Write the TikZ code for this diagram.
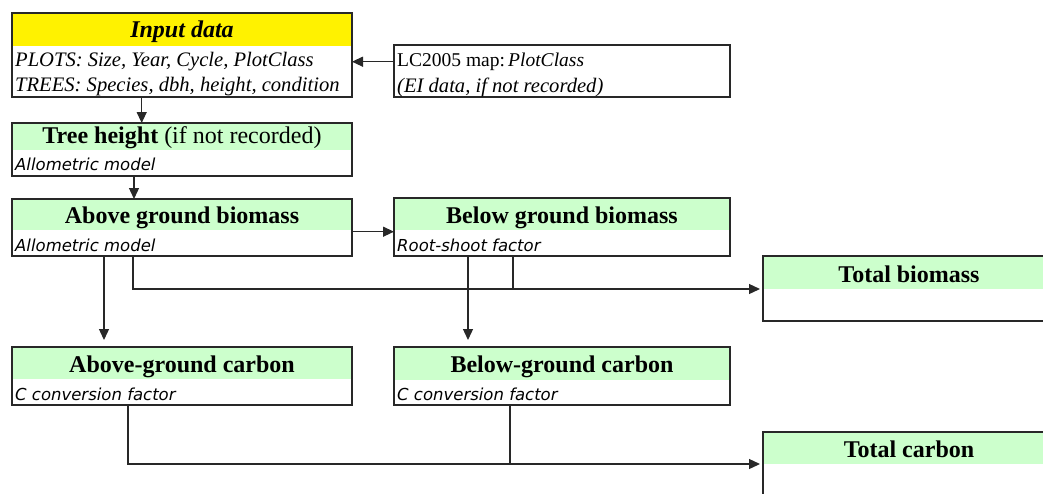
\documentclass[tikz,border=0pt]{standalone}
\usepackage{fontspec}
\setmainfont{Liberation Serif}
\newfontfamily\vsans{DejaVu Sans}
\usetikzlibrary{arrows.meta}
\definecolor{hdrgreen}{RGB}{204,255,204}
\definecolor{hdryellow}{RGB}{255,242,0}
\definecolor{edgecol}{RGB}{40,40,40}
\tikzset{
  box/.style={draw=edgecol, line width=1.3pt, rectangle, anchor=north west, inner sep=0pt, outer sep=0pt},
  hdr/.style 2 args={path picture={\fill[#1] (path picture bounding box.north west) rectangle ([yshift=-#2]path picture bounding box.north east);}},
  ttl/.style={anchor=base, inner sep=0pt, font=\fontsize{24}{26}\selectfont\bfseries},
  serifsub/.style={anchor=base west, inner sep=0pt, font=\fontsize{20.6}{22}\selectfont},
  sanssub/.style={anchor=base west, inner sep=0pt, font=\vsans\fontsize{16.5}{18}\selectfont\itshape},
  conn/.style={draw=edgecol, line width=1.3pt},
  arr/.style={conn, -{Triangle[length=11pt,width=10pt]}},
}
\begin{document}
\begin{tikzpicture}[x=1pt,y=-1pt]
\useasboundingbox (0,0) rectangle (1043,493);
\clip (0,0) rectangle (1043,493);
% boxes
\node[box, hdr={hdryellow}{33pt}, minimum width=340pt, minimum height=84pt] (input) at (12,13) {};
\node[box, minimum width=336pt, minimum height=52pt] (lc) at (394,45) {};
\node[box, hdr={hdrgreen}{27pt}, minimum width=340pt, minimum height=53pt] (tree) at (12,123) {};
\node[box, hdr={hdrgreen}{31pt}, minimum width=340pt, minimum height=57pt] (agb) at (12,199) {};
\node[box, hdr={hdrgreen}{32pt}, minimum width=336pt, minimum height=58pt] (bgb) at (394,198) {};
\node[box, hdr={hdrgreen}{33pt}, minimum width=292pt, minimum height=65pt] (tb) at (763,256) {};
\node[box, hdr={hdrgreen}{32pt}, minimum width=340pt, minimum height=58pt] (agc) at (12,347) {};
\node[box, hdr={hdrgreen}{33pt}, minimum width=336pt, minimum height=58pt] (bgc) at (394,347) {};
\node[box, hdr={hdrgreen}{32pt}, minimum width=292pt, minimum height=90pt] (tc) at (763,432) {};
% texts
\node[ttl] (inputT) at (182,37) {\itshape Input data};
\node[serifsub] (inputA) at (15,66.5) {\itshape PLOTS: Size, Year, Cycle, PlotClass};
\node[serifsub] (inputB) at (15,91.5) {\itshape TREES: Species, dbh, height, condition};
\node[serifsub, font=\fontsize{19.5}{22}\selectfont] (lcA) at (397,66) {LC2005 map:\,\textit{PlotClass}};
\node[serifsub] (lcB) at (397,92) {\itshape (EI data, if not recorded)};
\node[ttl] (treeT) at (182,143) {Tree height \mdseries(if not recorded)};
\node[sanssub] (treeS) at (15,170) {Allometric model};
\node[ttl] (agbT) at (182,223) {Above ground biomass};
\node[sanssub] (agbS) at (15,251.5) {Allometric model};
\node[ttl] (bgbT) at (562,223) {Below ground biomass};
\node[sanssub] (bgbS) at (397,251) {Root-shoot factor};
\node[ttl] (tbT) at (909,282) {Total biomass};
\node[ttl] (agcT) at (182,372) {Above-ground carbon};
\node[sanssub] (agcS) at (15,400.5) {C conversion factor};
\node[ttl] (bgcT) at (562,372) {Below-ground carbon};
\node[sanssub] (bgcS) at (397,400.5) {C conversion factor};
\node[ttl] (tcT) at (909,457) {Total carbon};
% guide coordinates
\coordinate (yLC) at (0,61.7);
\coordinate (xIn) at (141.7,0);
\coordinate (xTr) at (134,0);
\coordinate (yAB) at (0,231.7);
\coordinate (xAC) at (104,0);
\coordinate (xBC) at (468,0);
\coordinate (xAT) at (133,0);
\coordinate (xBT) at (513,0);
\coordinate (yTB) at (0,289);
\coordinate (xCA) at (128,0);
\coordinate (xCB) at (510,0);
\coordinate (yTC) at (0,464);
% connectors
\draw[arr] (lc.west |- yLC) -- (input.east |- yLC);
\draw[arr] (input.south -| xIn) -- (tree.north -| xIn);
\draw[arr] (tree.south -| xTr) -- (agb.north -| xTr);
\draw[arr] (agb.east |- yAB) -- (bgb.west |- yAB);
\draw[arr, shorten >=7pt] (agb.south -| xAC) -- (agc.north -| xAC);
\draw[arr, shorten >=7pt] (bgb.south -| xBC) -- (bgc.north -| xBC);
\draw[arr, shorten >=3pt] (agb.south -| xAT) |- (tb.west |- yTB);
\draw[conn] (bgb.south -| xBT) -- (xBT |- yTB);
\draw[arr, shorten >=3pt] (agc.south -| xCA) |- (tc.west |- yTC);
\draw[conn] (bgc.south -| xCB) -- (xCB |- yTC);
\end{tikzpicture}
\end{document}
